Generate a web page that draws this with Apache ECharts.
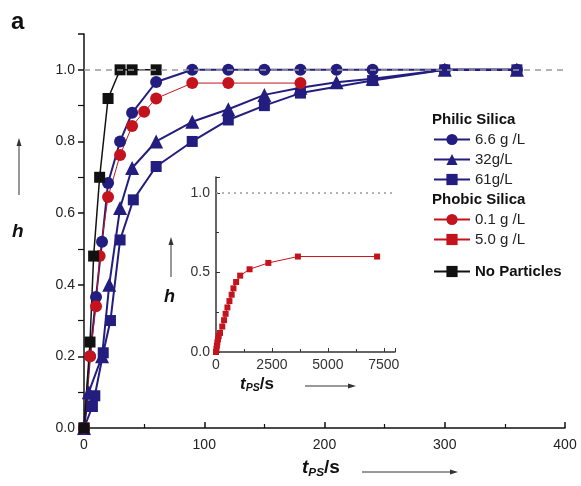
<!DOCTYPE html>
<html>
<head>
<meta charset="utf-8">
<script src="https://cdn.jsdelivr.net/npm/echarts@6/dist/echarts.min.js"></script>
<style>
  html, body { margin: 0; padding: 0; background: #fff; }
  #chart { width: 581px; height: 486px; }
</style>
</head>
<body>
<div id="chart"></div>
<script>
// main plot: time (s) and h values for each sample
const tPhilic66 = [0, 5, 10, 15, 20, 30, 40, 60, 90, 120, 150, 180, 210, 240, 300, 360]
const hPhilic66 = [0, 0.20, 0.366, 0.52, 0.684, 0.80, 0.88, 0.966, 1.0, 1.0, 1.0, 1.0, 1.0, 1.0, 1.0, 1.0]

const tPhilic32 = [0, 4, 15, 21, 30, 40, 60, 90, 120, 150, 180, 210, 240, 300, 360]
const hPhilic32 = [0, 0.10, 0.20, 0.40, 0.614, 0.726, 0.80, 0.855, 0.89, 0.93, 0.95, 0.965, 0.975, 1.0, 1.0]

const tPhilic61 = [0, 7, 9, 16, 22, 30, 41, 60, 90, 120, 150, 180, 240, 300, 360]
const hPhilic61 = [0, 0.06, 0.09, 0.21, 0.30, 0.525, 0.637, 0.73, 0.80, 0.86, 0.90, 0.935, 0.97, 1.0, 1.0]

const tPhobic01 = [0, 5, 10, 13, 20, 30, 40, 50, 60, 90, 120, 180]
const hPhobic01 = [0, 0.20, 0.34, 0.48, 0.645, 0.762, 0.843, 0.883, 0.92, 0.963, 0.963, 0.963]

const tNoParticles = [0, 5, 8, 13, 20, 30, 40, 60]
const hNoParticles = [0, 0.24, 0.48, 0.70, 0.92, 1.0, 1.0, 1.0]

// inset: phobic silica 5.0 g/L
const tPhobic50 = [0, 20, 40, 60, 90, 120, 180, 280, 360, 430, 510, 600, 700, 780, 900, 1080, 1500, 2340, 3660, 7200]
const hPhobic50 = [0, 0.02, 0.04, 0.06, 0.08, 0.10, 0.12, 0.16, 0.20, 0.24, 0.28, 0.32, 0.36, 0.40, 0.44, 0.48, 0.52, 0.56, 0.60, 0.60]

const mainXTicks = [0, 100, 200, 300, 400]
const mainYTicks = [0, 0.2, 0.4, 0.6, 0.8, 1.0]
const insetXTicks = [0, 2500, 5000, 7500]
const insetYTicks = [0, 0.5, 1.0]

const FONT = "'Liberation Sans', Arial, sans-serif"
const BLUE = '#221d7e'
const RED = '#c3141e'
const BLACK = '#111111'

const zip = (xs, ys) => xs.map((x, i) => [x, ys[i]])

const chart = echarts.init(document.getElementById('chart'))

const axisText = { color: '#222', fontSize: 14, fontFamily: FONT }

function axisArrow(x1, y1, x2, y2) {
  // thin line with a small filled head at (x2, y2)
  const dx = x2 - x1, dy = y2 - y1
  const len = Math.hypot(dx, dy)
  const ux = dx / len, uy = dy / len
  const hl = 8, hw = 2.5
  return [
    { type: 'line', shape: { x1, y1, x2: x2 - ux * hl, y2: y2 - uy * hl }, style: { stroke: '#333', lineWidth: 1 } },
    {
      type: 'polygon',
      shape: { points: [[x2, y2], [x2 - ux * hl - uy * hw, y2 - uy * hl + ux * hw], [x2 - ux * hl + uy * hw, y2 - uy * hl - ux * hw]] },
      style: { fill: '#333' }
    }
  ]
}

function tpsLabel(x, y, size) {
  return {
    type: 'text',
    x, y,
    style: {
      text: '{t|t}{s|PS}{u|/s}',
      rich: {
        t: { fontSize: size, fontWeight: 'bold', fontStyle: 'italic', fontFamily: FONT, fill: '#111' },
        s: { fontSize: size * 0.62, fontWeight: 'bold', fontStyle: 'italic', fontFamily: FONT, fill: '#111', padding: [size * 0.45, 0, 0, 0] },
        u: { fontSize: size, fontWeight: 'bold', fontFamily: FONT, fill: '#111' }
      },
      verticalAlign: 'middle'
    }
  }
}

const legendBase = {
  orient: 'vertical', left: 433, padding: 0,
  itemWidth: 36, itemHeight: 14, itemGap: 5,
  textStyle: { fontSize: 15, color: '#222', fontFamily: FONT }
}

const option = {
  backgroundColor: '#fff',
  animation: false,
  textStyle: { fontFamily: FONT },
  grid: [
    { left: 84, right: 16, top: 34, bottom: 58 },
    { left: 216, right: 186, top: 177, bottom: 134 }
  ],
  xAxis: [
    {
      gridIndex: 0, type: 'value', min: 0, max: 400, interval: 100,
      axisLine: { lineStyle: { color: BLACK, width: 1.5 } },
      axisTick: { inside: true, length: 6, lineStyle: { color: BLACK, width: 1.5 } },
      minorTick: { show: true, splitNumber: 2, length: 4, lineStyle: { color: BLACK, width: 1.2 } },
      axisLabel: { ...axisText, margin: 10 },
      splitLine: { show: false }
    },
    {
      gridIndex: 1, type: 'value', min: 0, max: 8000, interval: 2500,
      axisLine: { lineStyle: { color: '#333', width: 1.5 } },
      axisTick: { inside: true, length: 4, lineStyle: { color: '#333' } },
      minorTick: { show: true, splitNumber: 2, length: 3, lineStyle: { color: '#333' } },
      axisLabel: { ...axisText, color: '#333', margin: 6, showMaxLabel: false, formatter: v => String(v) },
      splitLine: { show: false }
    }
  ],
  yAxis: [
    {
      gridIndex: 0, type: 'value', min: 0, max: 1.1, interval: 0.2,
      axisLine: { show: true, lineStyle: { color: BLACK, width: 1.5 } },
      axisTick: { show: true, length: 6, lineStyle: { color: BLACK, width: 1.5 } },
      minorTick: { show: true, splitNumber: 2, length: 6, lineStyle: { color: BLACK, width: 1.2 } },
      axisLabel: { ...axisText, margin: 9, showMaxLabel: false, formatter: v => v.toFixed(1) },
      splitLine: { show: false }
    },
    {
      gridIndex: 1, type: 'value', min: 0, max: 1.1, interval: 0.5,
      axisLine: { show: true, lineStyle: { color: '#333', width: 1.5 } },
      axisTick: { show: true, inside: true, length: 4, lineStyle: { color: '#333' } },
      minorTick: { show: true, inside: true, splitNumber: 2, length: 3, lineStyle: { color: '#333' } },
      axisLabel: { ...axisText, color: '#333', margin: 6, showMaxLabel: false, formatter: v => v.toFixed(1) },
      splitLine: { show: false }
    }
  ],
  legend: [
    { ...legendBase, data: ['6.6 g /L', '32g/L', '61g/L'], top: 132 },
    { ...legendBase, data: ['0.1 g /L', '5.0 g /L'], top: 212 },
    {
      ...legendBase, data: ['No Particles'], top: 264,
      textStyle: { fontSize: 15, color: '#111', fontWeight: 'bold', fontFamily: FONT }
    }
  ],
  series: [
    {
      name: 'ref', type: 'line', xAxisIndex: 0, yAxisIndex: 0, data: [], z: 6,
      markLine: {
        silent: true, symbol: 'none', label: { show: false },
        lineStyle: { color: '#999', type: [6, 5], width: 1.5 },
        data: [{ yAxis: 1 }]
      }
    },
    {
      name: '61g/L', type: 'line', xAxisIndex: 0, yAxisIndex: 0,
      data: zip(tPhilic61, hPhilic61),
      symbol: 'rect', symbolSize: 11,
      lineStyle: { color: BLUE, width: 2 }, itemStyle: { color: BLUE }
    },
    {
      name: '32g/L', type: 'line', xAxisIndex: 0, yAxisIndex: 0,
      data: zip(tPhilic32, hPhilic32),
      symbol: 'triangle', symbolSize: 14,
      lineStyle: { color: BLUE, width: 2 }, itemStyle: { color: BLUE }
    },
    {
      name: '6.6 g /L', type: 'line', xAxisIndex: 0, yAxisIndex: 0,
      data: zip(tPhilic66, hPhilic66),
      symbol: 'circle', symbolSize: 12,
      lineStyle: { color: BLUE, width: 2 }, itemStyle: { color: BLUE }
    },
    {
      name: '0.1 g /L', type: 'line', xAxisIndex: 0, yAxisIndex: 0,
      data: zip(tPhobic01, hPhobic01),
      symbol: 'circle', symbolSize: 12,
      lineStyle: { color: RED, width: 1 }, itemStyle: { color: RED }
    },
    {
      name: 'No Particles', type: 'line', xAxisIndex: 0, yAxisIndex: 0,
      data: zip(tNoParticles, hNoParticles),
      symbol: 'rect', symbolSize: 11,
      lineStyle: { color: BLACK, width: 1.5 }, itemStyle: { color: BLACK }
    },
    {
      name: '5.0 g /L', type: 'line', xAxisIndex: 1, yAxisIndex: 1,
      data: zip(tPhobic50, hPhobic50),
      symbol: 'rect', symbolSize: 6,
      lineStyle: { color: RED, width: 1 }, itemStyle: { color: RED },
      markLine: {
        silent: true, symbol: 'none', label: { show: false },
        lineStyle: { color: '#999', type: [2, 4], width: 1.5 },
        data: [{ yAxis: 1 }]
      }
    }
  ],
  graphic: [
    { type: 'text', x: 11, y: 10, style: { text: 'a', fontSize: 24, fontWeight: 'bold', fontFamily: FONT, fill: '#111' } },
    { type: 'text', x: 432, y: 112, style: { text: 'Philic Silica', fontSize: 15, fontWeight: 'bold', fontFamily: FONT, fill: '#111' } },
    { type: 'text', x: 432, y: 192, style: { text: 'Phobic Silica', fontSize: 15, fontWeight: 'bold', fontFamily: FONT, fill: '#111' } },
    // main axis names
    { type: 'text', x: 12, y: 222, style: { text: 'h', fontSize: 19, fontWeight: 'bold', fontStyle: 'italic', fontFamily: FONT, fill: '#111' } },
    ...axisArrow(19, 195, 19, 138),
    tpsLabel(302, 468, 19),
    ...axisArrow(362, 472, 458, 472),
    // inset axis names
    { type: 'text', x: 164, y: 288, style: { text: 'h', fontSize: 18, fontWeight: 'bold', fontStyle: 'italic', fontFamily: FONT, fill: '#111' } },
    ...axisArrow(171, 277, 171, 237),
    tpsLabel(240, 384, 17),
    ...axisArrow(305, 386, 356, 386)
  ]
}

chart.setOption(option)
</script>
</body>
</html>
